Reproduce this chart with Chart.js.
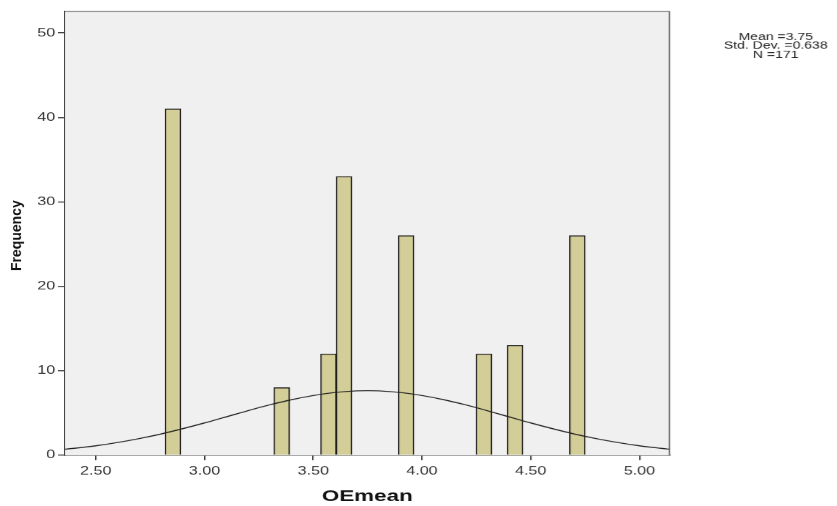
<!DOCTYPE html>
<html>
<head>
<meta charset="utf-8">
<script src="https://cdn.jsdelivr.net/npm/chart.js@4/dist/chart.umd.min.js"></script>
<style>
  html, body { margin: 0; padding: 0; background: #fff; overflow: hidden; }
  /* the reference picture is stretched sideways, so draw narrow and stretch */
  #wrap { width: 837px; height: 506px; }
  #histChart { transform: scaleX(1.4); transform-origin: 0 0; display: block; }
</style>
</head>
<body>
<div id="wrap"><canvas id="histChart" width="598" height="506"></canvas></div>
<script>
// Histogram bins (centre of each bin) and their counts
const binCenters = [2.855, 3.355, 3.570, 3.6415, 3.927, 4.285, 4.428, 4.714];
const counts = [41, 8, 12, 33, 26, 12, 13, 26];

// Normal curve
const curveX = [2.35, 2.5, 2.6, 2.7, 2.8, 2.9, 3.0, 3.1, 3.2, 3.3, 3.4, 3.5, 3.6, 3.7, 3.75,
                3.8, 3.9, 4.0, 4.1, 4.2, 4.3, 4.4, 4.5, 4.6, 4.7, 4.8, 4.9, 5.0, 5.1, 5.15];
const curveY = [0.69, 1.12, 1.51, 1.98, 2.52, 3.15, 3.83, 4.55, 5.28, 5.97, 6.58, 7.08, 7.44, 7.63, 7.65,
                7.63, 7.44, 7.08, 6.58, 5.97, 5.28, 4.55, 3.83, 3.15, 2.52, 1.98, 1.51, 1.12, 0.82, 0.69];

const xTicks = [2.5, 3.0, 3.5, 4.0, 4.5, 5.0];
const yTicks = [0, 10, 20, 30, 40, 50];
const statsLines = ['Mean =3.75', 'Std. Dev. =0.638', 'N =171'];
const yTitle = 'Frequency';

const FONT = 'Liberation Sans, Arial, Helvetica, sans-serif';
const STRETCH = 1.4;

// grey plot background and frame
const plotFrame = {
    id: 'plotFrame',
    beforeDatasetsDraw(chart) {
        const { ctx, chartArea: a } = chart;
        ctx.save();
        ctx.fillStyle = '#f0f0f0';
        ctx.fillRect(a.left, a.top, a.right - a.left, a.bottom - a.top);
        ctx.restore();
    },
    afterDatasetsDraw(chart) {
        const { ctx, chartArea: a } = chart;
        ctx.save();
        ctx.strokeStyle = '#666';
        ctx.lineWidth = 1;
        ctx.beginPath();
        ctx.moveTo(a.left, a.top + 0.5);
        ctx.lineTo(a.right, a.top + 0.5);
        ctx.lineTo(a.right, a.bottom);
        ctx.stroke();
        ctx.restore();
    }
};

// summary statistics top right, and the y title (not stretched in the original)
const textBits = {
    id: 'textBits',
    afterDraw(chart) {
        const ctx = chart.ctx;
        ctx.save();
        ctx.font = '10px ' + FONT;
        ctx.fillStyle = '#222';
        ctx.textAlign = 'center';
        ctx.textBaseline = 'middle';
        statsLines.forEach((line, i) => {
            ctx.fillText(line, 554, 37 + i * 9);
        });
        ctx.restore();

        ctx.save();
        ctx.translate(12.3, 235.5);
        ctx.scale(1 / STRETCH, 1);
        ctx.rotate(-Math.PI / 2);
        ctx.font = 'bold 14px ' + FONT;
        ctx.fillStyle = '#111';
        ctx.textAlign = 'center';
        ctx.textBaseline = 'middle';
        ctx.fillText(yTitle, 0, 0);
        ctx.restore();
    }
};

const ctx = document.getElementById('histChart').getContext('2d');
const chart = new Chart(ctx, {
    data: {
        datasets: [
            {
                type: 'line',
                data: curveX.map((x, i) => ({ x: x, y: curveY[i] })),
                borderColor: '#222',
                borderWidth: 1,
                pointRadius: 0,
                cubicInterpolationMode: 'monotone',
                fill: false
            },
            {
                type: 'bar',
                data: binCenters.map((x, i) => ({ x: x, y: counts[i] })),
                backgroundColor: '#d3ce97',
                borderColor: '#1a1a1a',
                borderWidth: 1,
                categoryPercentage: 1.0,
                barPercentage: 1.0
            }
        ]
    },
    options: {
        responsive: false,
        animation: false,
        devicePixelRatio: STRETCH,
        layout: { padding: { top: 11, right: 119.9, bottom: 0, left: 0 } },
        plugins: {
            legend: { display: false },
            tooltip: { enabled: false }
        },
        scales: {
            x: {
                type: 'linear',
                offset: false,
                min: 2.3585,
                max: 5.138,
                afterFit(scale) { scale.height = 51; },
                afterBuildTicks(scale) { scale.ticks = xTicks.map(v => ({ value: v })); },
                grid: { display: true, offset: false, drawOnChartArea: false, tickLength: 5, color: '#333' },
                border: { display: true, color: '#333', width: 1 },
                ticks: {
                    padding: 4,
                    maxRotation: 0,
                    color: '#333',
                    font: { family: FONT, size: 11.5 },
                    callback: v => Number(v).toFixed(2)
                },
                title: {
                    display: true,
                    text: 'OEmean',
                    color: '#111',
                    font: { family: FONT, size: 16, weight: 'bold' },
                    padding: { top: 0, bottom: 0 }
                }
            },
            y: {
                min: 0,
                max: 52.6,
                afterFit(scale) { scale.width = 46.4; },
                afterBuildTicks(scale) { scale.ticks = yTicks.map(v => ({ value: v })); },
                grid: { display: true, drawOnChartArea: false, tickLength: 5, color: '#333' },
                border: { display: true, color: '#333', width: 1 },
                ticks: {
                    padding: 2,
                    color: '#333',
                    font: { family: FONT, size: 11.5 }
                }
            }
        }
    },
    plugins: [plotFrame, textBits]
});
</script>
</body>
</html>
